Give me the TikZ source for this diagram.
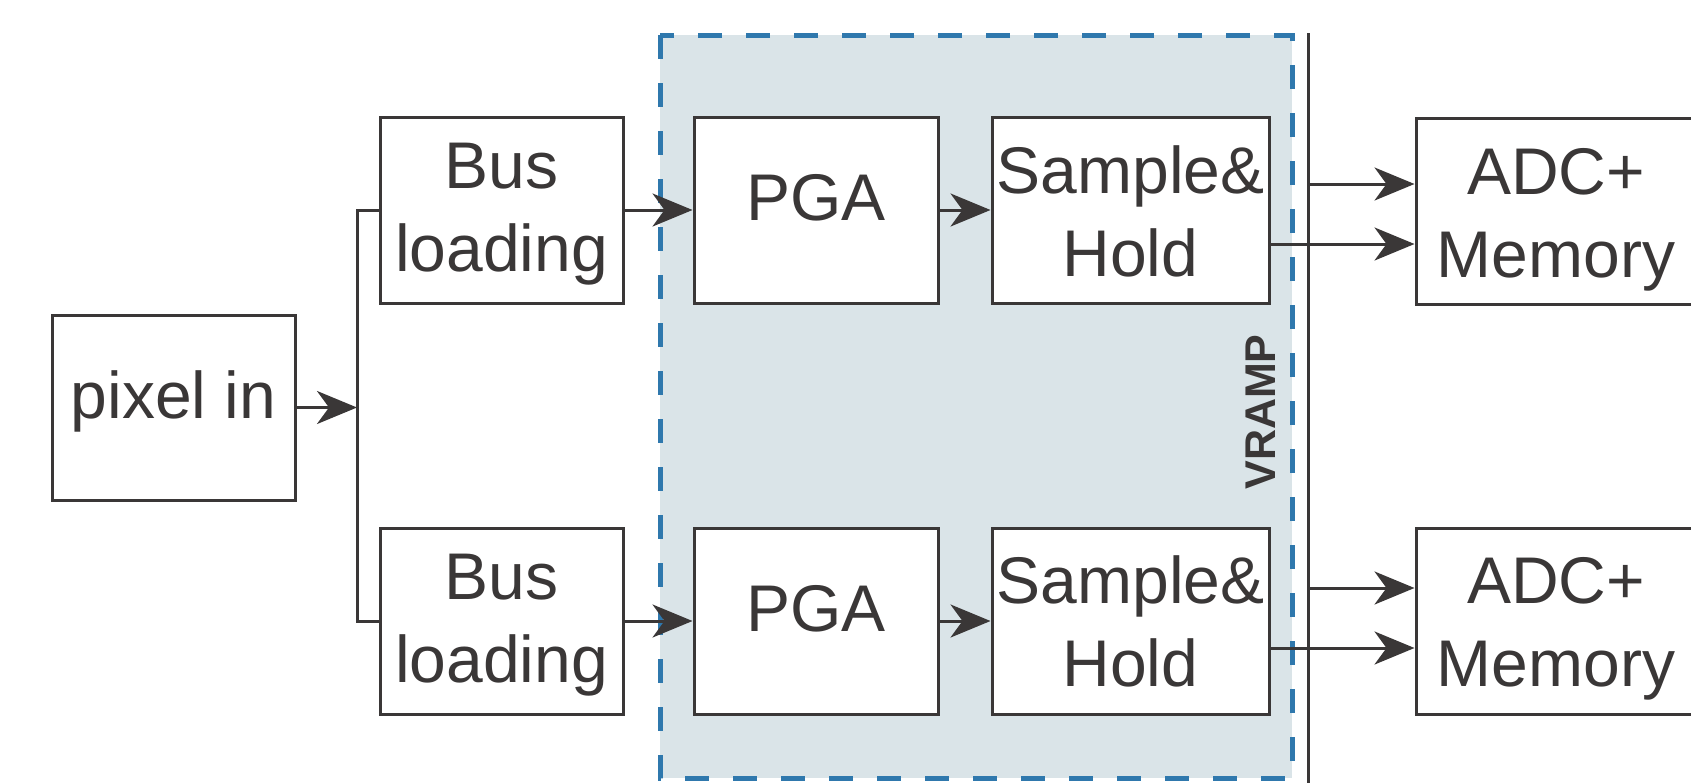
\documentclass[tikz,border=0pt]{standalone}
\usepackage{fontspec}
\setmainfont{Liberation Sans}
\usetikzlibrary{arrows.meta}
\definecolor{ink}{HTML}{3A3737}
\definecolor{vfill}{HTML}{DAE4E8}
\definecolor{vdash}{HTML}{2F78AD}
\tikzset{
  blk/.style={draw=ink, line width=3pt, fill=white, inner sep=0pt},
  lbl/.style={text=ink, font=\fontsize{66}{83}\selectfont, align=center, inner sep=0pt, anchor=base},
  conn/.style={draw=ink, line width=3pt},
  arr/.style={conn, -{Stealth[length=40pt, width=33pt, inset=12pt]}},
  dashbox/.style={draw=vdash, line width=5pt, dash pattern=on 24pt off 24pt},
}
\begin{document}
\begin{tikzpicture}[x=1pt,y=-1pt]
\useasboundingbox (0,0) rectangle (1691,782);
% VRAMP region
\path[fill=vfill] (660,35) rectangle (1292,778);
% boxes
\node[blk, minimum width=243pt, minimum height=185pt] (pix)  at (173.5,407.5) {};
\node[blk, minimum width=243pt, minimum height=186pt] (bus1) at (501.5,210) {};
\node[blk, minimum width=243pt, minimum height=186pt] (bus2) at (501.5,621) {};
\node[blk, minimum width=244pt, minimum height=186pt] (pga1) at (816,210) {};
\node[blk, minimum width=244pt, minimum height=186pt] (pga2) at (816,621) {};
\node[blk, minimum width=277pt, minimum height=186pt] (sh1)  at (1130.5,210) {};
\node[blk, minimum width=277pt, minimum height=186pt] (sh2)  at (1130.5,621) {};
\node[blk, minimum width=280pt, minimum height=186pt] (adc1) at (1556,211) {};
\node[blk, minimum width=280pt, minimum height=186pt] (adc2) at (1556,621) {};
% labels (base = baseline of the last line)
\node[lbl] (tpix)  at (173.5,418) {pixel in};
\node[lbl] (tbus1) at (501.5,271) {Bus\\loading};
\node[lbl] (tbus2) at (501.5,682) {Bus\\loading};
\node[lbl] (tpga1) at (816,220) {PGA};
\node[lbl] (tpga2) at (816,631) {PGA};
\node[lbl] (tsh1)  at (1130.5,276) {Sample\&\\Hold};
\node[lbl] (tsh2)  at (1130.5,686) {Sample\&\\Hold};
\node[lbl] (tadc1) at (1556,277) {ADC+\\Memory};
\node[lbl] (tadc2) at (1556,686) {ADC+\\Memory};
\node[text=ink, font=\bfseries\fontsize{43}{43}\selectfont, rotate=90, inner sep=0pt] (vramp) at (1261,412) {VRAMP};
% dashed frame
\draw[dashbox] (660,35) rectangle (1292,778);
% VRAMP line
\coordinate (vt) at (1308,33);
\coordinate (vb) at (1308,790);
\draw[conn] (vt) -- (vb);
% connectors
\coordinate (jn) at (357,407.5);
\coordinate (jt) at (357,210);
\coordinate (jb) at (357,621);
\draw[arr] (pix.east) -- (jn);
\draw[conn] (bus1.west) -- (jt) -- (jb) -- (bus2.west);
\draw[arr] (bus1.east) -- (pga1.west);
\draw[arr] (bus2.east) -- (pga2.west);
\draw[arr] (pga1.east) -- (sh1.west);
\draw[arr] (pga2.east) -- (sh2.west);
\coordinate (r1) at (1308,184);
\coordinate (o1) at (1269,244);
\coordinate (r2) at (1308,588);
\coordinate (o2) at (1269,648);
\draw[arr] (r1) -- (r1 -| adc1.west);
\draw[arr] (sh1.east |- o1) -- (o1 -| adc1.west);
\draw[arr] (r2) -- (r2 -| adc2.west);
\draw[arr] (sh2.east |- o2) -- (o2 -| adc2.west);
\end{tikzpicture}
\end{document}
